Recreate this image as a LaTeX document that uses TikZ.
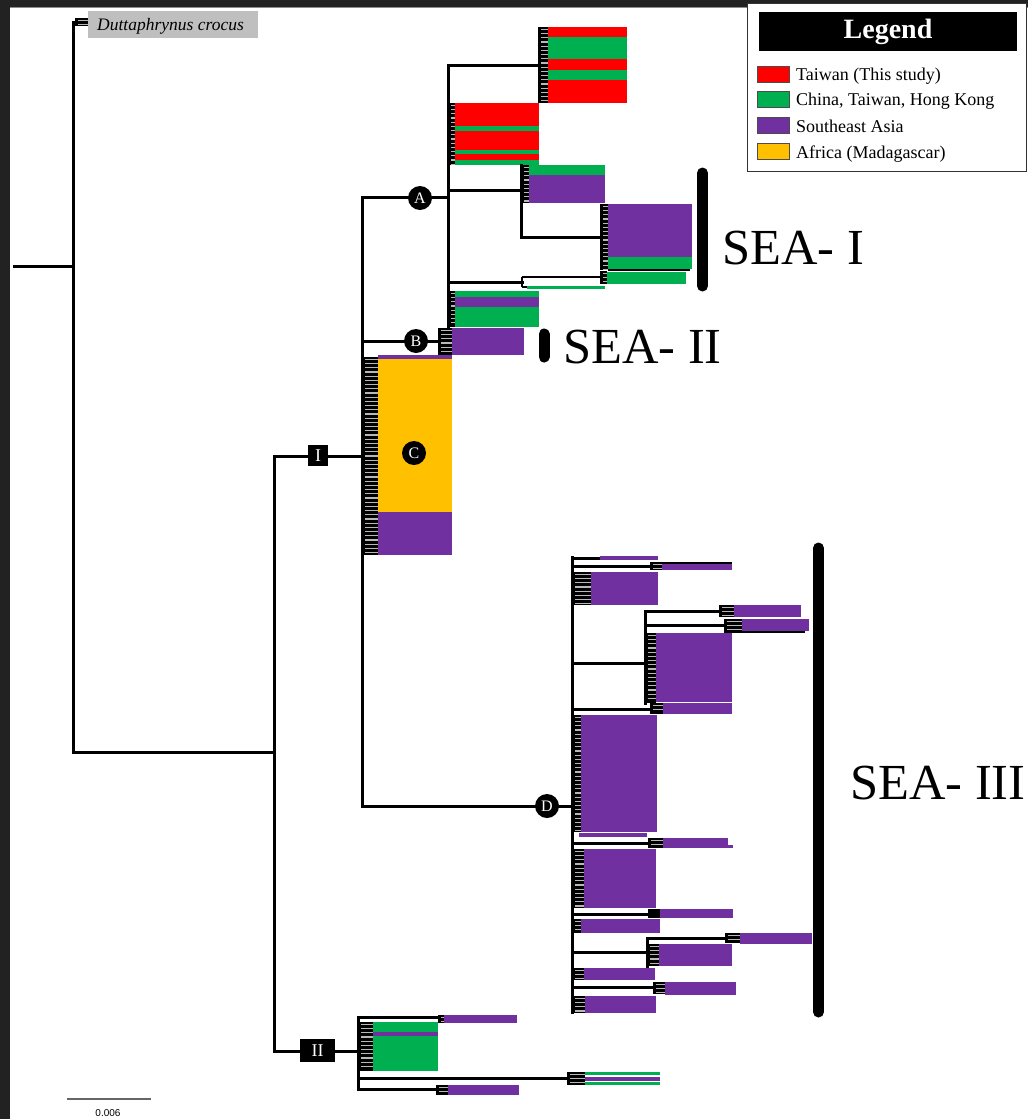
\documentclass[tikz,border=0pt]{standalone}
\usepackage{fontspec}
\setmainfont{Liberation Serif}
\newfontfamily\scalebarfont{Liberation Sans}
\definecolor{cRed}{HTML}{FF0000}
\definecolor{cGreen}{HTML}{00B050}
\definecolor{cPurple}{HTML}{7030A0}
\definecolor{cYellow}{HTML}{FFC000}
\definecolor{cFrame}{HTML}{222222}
\definecolor{cLabel}{HTML}{BFBFBF}
\newcommand{\tipcomb}[4]{%
  \fill[black] (#1,#3) rectangle (#2,#4);%
  \pgfmathtruncatemacro{\tcN}{max(0,floor((#4-#3-3)/4.2))}%
  \foreach \k in {0,...,\tcN}{\draw[combline] ({#1+3},{#3+2.3+\k*4.2}) -- (#2,{#3+2.3+\k*4.2});}%
}
\newcommand{\blk}[5]{\fill[#1] (#2,#3) rectangle (#4,#5);}
\begin{document}
\begin{tikzpicture}[x=1pt,y=-1pt,
  br/.style={line width=3pt,line cap=rect},
  thinbr/.style={line width=1.8pt},
  combline/.style={draw=black!28,line width=1.2pt},
  circ/.style={circle,fill=black,text=white,inner sep=0pt,minimum size=24pt,font=\fontsize{16}{16}\selectfont},
  rbox/.style={fill=black,text=white,inner sep=0pt,font=\fontsize{18}{18}\selectfont},
  seatext/.style={font=\fontsize{50.5}{50.5}\selectfont,anchor=base west,inner sep=0pt},
  seabar/.style={line width=11pt,line cap=round},
  legtext/.style={font=\fontsize{18}{18}\selectfont,anchor=base west,inner sep=0pt},
  swatch/.style={draw=black!70,line width=0.8pt}]
\useasboundingbox (0,0) rectangle (1028,1119);
% frame
\fill[cFrame] (0,0) rectangle (1028,1119);
\fill[white] (10,7) rectangle (1028,1119);
\fill[black!45] (10,7) rectangle (1028,8.2);

% ---------------- main backbone ----------------
\coordinate (r0) at (14,266);
\coordinate (root) at (73,266);
\coordinate (nOut) at (75,22);
\coordinate (nIn) at (274,752);
\coordinate (nI) at (362,456);
\coordinate (nII) at (358,1051);
\coordinate (nA) at (448,197);
\coordinate (nB) at (438,341);
\coordinate (nD) at (572,806);
\draw[br] (r0) -- (root);
\draw[br] (nOut) -| (root) |- (nIn);
\draw[br] (nI) -| (nIn) |- (nII);
\draw[br] (362,197) -- (362,806);
\draw[br] (362,197) -- (nA);
\draw[br] (nI |- nB) -- (nB);
\draw[br] (362,806) -- (nD);

% outgroup
\tipcomb{75}{88}{18}{26}
\node[fill=cLabel,minimum width=170pt,minimum height=27pt,inner sep=0pt] (outlbl) at (173,24.5) {};
\node[font=\fontsize{17.5}{17.5}\selectfont\itshape,anchor=base west,inner sep=0pt] (outtxt) at (97,30) {Duttaphrynus crocus};

% ---------------- clade A ----------------
\draw[br] (448,65) -- (448,326);
\draw[br] (448,65) -- (538,65);
\tipcomb{538}{548}{27}{103}
\blk{cRed}{548}{27}{627}{37}
\blk{cGreen}{548}{37}{627}{59}
\blk{cRed}{548}{59}{627}{70}
\blk{cGreen}{548}{70}{627}{80}
\blk{cRed}{548}{80}{627}{103}
\tipcomb{448}{455}{103}{165}
\blk{cRed}{455}{103}{539}{126}
\blk{cGreen}{455}{126}{539}{131}
\blk{cRed}{455}{131}{539}{150}
\blk{cGreen}{455}{150}{539}{154}
\blk{cRed}{455}{154}{539}{160}
\blk{cGreen}{455}{160}{539}{165}
\draw[br] (448,190) -- (521,190);
\draw[br] (521,165) -- (521,237) -- (600,237);
\tipcomb{521}{529}{165}{203}
\blk{cGreen}{529}{165}{605}{175}
\blk{cPurple}{529}{175}{605}{203}
\tipcomb{600}{608}{204}{270}
\blk{cPurple}{608}{204}{692}{257}
\blk{cGreen}{608}{257}{692}{269}
\draw[thinbr] (608,270) -- (690,270);
\draw[br] (448,282) -- (522,282);
\draw[thinbr] (522,277) -- (522,287);
\draw[thinbr] (522,277) -- (600,277);
\draw[thinbr] (522,287) -- (527,287);
\blk{cGreen}{527}{285.5}{605}{289}
\tipcomb{600}{607}{271}{284}
\blk{cGreen}{607}{272}{686}{284}
\tipcomb{448}{455}{291}{327}
\blk{cGreen}{455}{291}{539}{297}
\blk{cPurple}{455}{297}{539}{307}
\blk{cGreen}{455}{307}{539}{327}

% ---------------- clade B ----------------
\tipcomb{438}{452}{328}{355}
\blk{cPurple}{452}{328}{524}{355}

% ---------------- clade C ----------------
\tipcomb{362}{378}{357}{555}
\blk{cPurple}{378}{355}{452}{359}
\blk{cYellow}{378}{359}{452}{512}
\blk{cPurple}{378}{512}{452}{555}

% ---------------- clade D ----------------
\draw[br] (572,557) -- (572,1012);
\draw[br] (572,558) -- (600,558);
\blk{cPurple}{600}{555.5}{658}{560}
\draw[br] (572,566) -- (650,566);
\tipcomb{650}{662}{562}{570}
\draw[thinbr] (662,563) -- (732,563);
\blk{cPurple}{662}{564}{732}{570}
\tipcomb{572}{591}{572}{605}
\blk{cPurple}{591}{572}{658}{605}
\draw[br] (572,663) -- (645,663);
\draw[br] (645,611) -- (645,703);
\draw[br] (645,611) -- (719,611);
\tipcomb{719}{734}{605}{617}
\blk{cPurple}{734}{605}{801}{617}
\draw[br] (645,625) -- (724,625);
\tipcomb{724}{742}{619}{632}
\blk{cPurple}{742}{619}{809}{631}
\draw[thinbr] (724,632) -- (805,632);
\tipcomb{645}{656}{633}{703}
\blk{cPurple}{656}{633}{732}{702}
\draw[br] (572,709) -- (650,709);
\tipcomb{650}{663}{703}{714}
\blk{cPurple}{663}{703}{732}{714}
\tipcomb{572}{581}{715}{832}
\blk{cPurple}{581}{715}{657}{832}
\blk{cPurple}{579}{833}{647}{837}
\draw[br] (572,843) -- (648,843);
\tipcomb{648}{663}{838}{848}
\blk{cPurple}{663}{838}{728}{845}
\blk{cPurple}{663}{845}{733}{848}
\tipcomb{572}{584}{849}{908}
\blk{cPurple}{584}{849}{656}{908}
\draw[br] (572,914) -- (648,914);
\fill[black] (648,909) rectangle (660,918);
\blk{cPurple}{660}{909}{733}{918}
\tipcomb{572}{581}{919}{933}
\blk{cPurple}{581}{919}{660}{933}
\draw[br] (572,952) -- (647,952);
\draw[br] (647,938) -- (647,966);
\draw[br] (647,938) -- (725,938);
\tipcomb{725}{740}{933}{943}
\blk{cPurple}{740}{933}{812}{944}
\tipcomb{647}{659}{944}{966}
\blk{cPurple}{659}{944}{732}{966}
\tipcomb{572}{584}{968}{980}
\blk{cPurple}{584}{968}{655}{980}
\draw[br] (572,987) -- (653,987);
\tipcomb{653}{665}{982}{994}
\blk{cPurple}{665}{982}{736}{995}
\tipcomb{572}{585}{996}{1013}
\blk{cPurple}{585}{996}{656}{1013}

% ---------------- clade II ----------------
\draw[br] (358,1017) -- (358,1089);
\draw[br] (358,1017) -- (438,1017);
\tipcomb{438}{444}{1015}{1023}
\blk{cPurple}{444}{1015}{517}{1023}
\tipcomb{358}{373}{1022}{1071}
\blk{cGreen}{373}{1022}{438}{1071}
\blk{cPurple}{373}{1032}{438}{1036}
\draw[br] (358,1078) -- (567,1078);
\tipcomb{567}{585}{1072}{1085}
\blk{cGreen}{585}{1071.5}{660}{1075}
\blk{cPurple}{585}{1076.5}{660}{1080.5}
\blk{cGreen}{585}{1081.5}{660}{1084.5}
\draw[br] (358,1089) -- (436,1089);
\tipcomb{436}{448}{1085}{1095}
\blk{cPurple}{448}{1085}{519}{1095}

% ---------------- node labels ----------------
\node[circ] (lA) at (420,198) {A};
\node[circ] (lB) at (416,341) {B};
\node[circ] (lC) at (414,453) {C};
\node[circ] (lD) at (547,806) {D};
\node[rbox,minimum width=20pt,minimum height=21pt] (lI) at (318,455.5) {I};
\node[rbox,minimum width=35pt,minimum height=23pt] (lII) at (317.5,1050.5) {II};

% ---------------- SEA bars ----------------
\coordinate (s1a) at (702.5,173);
\coordinate (s1b) at (702.5,286);
\draw[seabar] (s1a) -- (s1b);
\node[seatext] (sea1) at (722,264) {SEA- I};
\coordinate (s2a) at (544,334);
\coordinate (s2b) at (544,357);
\draw[seabar] (s2a) -- (s2b);
\node[seatext] (sea2) at (563,363) {SEA- II};
\coordinate (s3a) at (818.5,548);
\coordinate (s3b) at (818.5,1012);
\draw[seabar] (s3a) -- (s3b);
\node[seatext] (sea3) at (850,799) {SEA- III};

% ---------------- scale bar ----------------
\coordinate (sb1) at (67,1099);
\coordinate (sb2) at (151,1099);
\draw[black!60,line width=1.6pt] (sb1) -- (sb2);
\node[font=\scalebarfont\fontsize{10}{10}\selectfont,inner sep=0pt] (sbl) at (108,1113) {0.006};

% ---------------- legend ----------------
\node[draw=black!80,line width=1pt,fill=white,minimum width=279pt,minimum height=168pt,inner sep=0pt] (legend) at (886.5,87) {};
\node[fill=black,minimum width=258pt,minimum height=39pt,inner sep=0pt] (leghead) at (888,31.5) {};
\node[text=white,font=\fontsize{28}{28}\selectfont\bfseries,inner sep=0pt] (legtitle) at (888,32) {Legend};
\node[swatch,fill=cRed,minimum width=32pt,minimum height=16pt,inner sep=0pt] (sw1) at (773.5,74) {};
\node[swatch,fill=cGreen,minimum width=32pt,minimum height=16pt,inner sep=0pt] (sw2) at (773.5,99) {};
\node[swatch,fill=cPurple,minimum width=32pt,minimum height=16pt,inner sep=0pt] (sw3) at (773.5,125) {};
\node[swatch,fill=cYellow,minimum width=32pt,minimum height=16pt,inner sep=0pt] (sw4) at (773.5,151.5) {};
\node[legtext] (lt1) at (796,80) {Taiwan (This study)};
\node[legtext] (lt2) at (796,105) {China, Taiwan, Hong Kong};
\node[legtext] (lt3) at (796,132) {Southeast Asia};
\node[legtext] (lt4) at (796,158) {Africa (Madagascar)};
\end{tikzpicture}
\end{document}
